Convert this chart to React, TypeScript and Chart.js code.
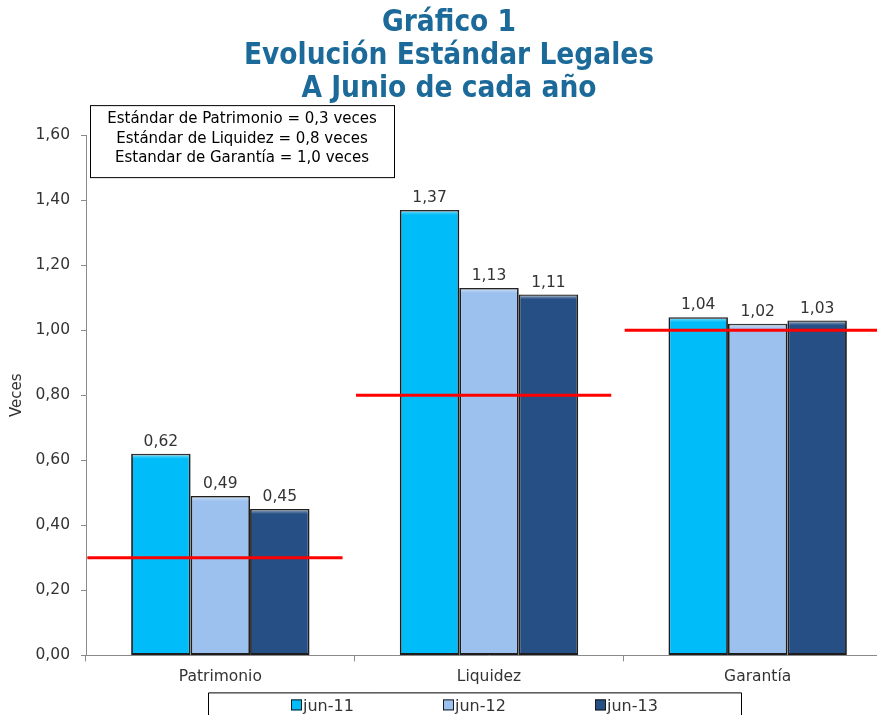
import React, { useEffect, useRef } from "react";
import { Chart, registerables } from "chart.js";

Chart.register(...registerables);

const categories = ["Patrimonio", "Liquidez", "Garantía"];
const seriesNames = ["jun-11", "jun-12", "jun-13"];
const jun11 = [0.62, 1.37, 1.04];
const jun12 = [0.49, 1.13, 1.02];
const jun13 = [0.45, 1.11, 1.03];
const standards = [0.3, 0.8, 1.0];
const standardNotes = [
  "Estándar de Patrimonio = 0,3 veces",
  "Estándar de Liquidez = 0,8 veces",
  "Estandar de Garantía = 1,0 veces",
];
const titleLines = ["Gráfico 1", "Evolución Estándar Legales", "A Junio de cada año"];
const yAxisTitle = "Veces";
const yMin = 0;
const yMax = 1.6;
const yStep = 0.2;

const seriesValues = [jun11, jun12, jun13];
const seriesColors = ["#00BCF8", "#9DC1EF", "#254F85"];

const FONT = "'DejaVu Sans', Verdana, sans-serif";
const TEXT = "#333333";
const AXIS = "#8a8a8a";

const fmt = (v: number, d: number) => v.toFixed(d).replace(".", ",");

const extrasPlugin = {
  id: "extras",
  afterDatasetsDraw(chart: any) {
    const ctx = chart.ctx;
    const x = chart.scales.x;
    const y = chart.scales.y;
    // bevel highlight on bars
    chart.data.datasets.forEach((ds: any, di: number) => {
      const meta = chart.getDatasetMeta(di);
      meta.data.forEach((bar: any) => {
        const left = bar.x - bar.width / 2;
        ctx.save();
        const g = ctx.createLinearGradient(0, bar.y, 0, bar.y + 5);
        g.addColorStop(0, "rgba(255,255,255,0.55)");
        g.addColorStop(1, "rgba(255,255,255,0)");
        ctx.fillStyle = g;
        ctx.fillRect(left + 1.5, bar.y + 1, bar.width - 3, 5);
        ctx.restore();
      });
    });
    // data labels
    ctx.save();
    ctx.font = `15.5px ${FONT}`;
    ctx.fillStyle = TEXT;
    ctx.textAlign = "center";
    ctx.textBaseline = "bottom";
    chart.data.datasets.forEach((ds: any, di: number) => {
      const meta = chart.getDatasetMeta(di);
      meta.data.forEach((bar: any, i: number) => {
        ctx.fillText(fmt(ds.data[i], 2), bar.x, bar.y - 4);
      });
    });
    ctx.restore();
    // standard lines
    const w = x.getPixelForValue(1) - x.getPixelForValue(0);
    ctx.save();
    ctx.strokeStyle = "#FF0000";
    ctx.lineWidth = 3;
    standards.forEach((s, i) => {
      const cx = x.getPixelForValue(i);
      const py = y.getPixelForValue(s);
      ctx.beginPath();
      ctx.moveTo(cx - 0.495 * w, py);
      ctx.lineTo(cx + 0.455 * w, py);
      ctx.stroke();
    });
    ctx.restore();
  },
  afterDraw(chart: any) {
    const ctx = chart.ctx;
    const area = chart.chartArea;
    // annotation box
    const bx = area.left + 4;
    const by = area.top - 30;
    const bw = 304;
    const bh = 72;
    ctx.save();
    ctx.fillStyle = "#ffffff";
    ctx.fillRect(bx, by, bw, bh);
    ctx.strokeStyle = "#000000";
    ctx.lineWidth = 1;
    ctx.strokeRect(bx + 0.5, by + 0.5, bw, bh);
    ctx.font = `15px ${FONT}`;
    ctx.fillStyle = "#000000";
    ctx.textAlign = "center";
    ctx.textBaseline = "middle";
    standardNotes.forEach((t, i) => {
      ctx.fillText(t, bx + bw / 2, by + 14 + i * 19.5);
    });
    ctx.restore();
    // legend
    const legTop = area.bottom + 37;
    const legLeft = 208;
    const legRight = 741;
    ctx.save();
    ctx.strokeStyle = "#000000";
    ctx.lineWidth = 1;
    ctx.beginPath();
    ctx.moveTo(legLeft + 0.5, chart.height);
    ctx.lineTo(legLeft + 0.5, legTop + 0.5);
    ctx.lineTo(legRight + 0.5, legTop + 0.5);
    ctx.lineTo(legRight + 0.5, chart.height);
    ctx.stroke();
    ctx.font = `16px ${FONT}`;
    ctx.textBaseline = "middle";
    ctx.textAlign = "left";
    const cy = legTop + 13;
    seriesNames.forEach((n, i) => {
      const sx = 291 + i * 152;
      ctx.fillStyle = seriesColors[i];
      ctx.fillRect(sx, cy - 6, 11, 11);
      ctx.strokeStyle = "#1a1a1a";
      ctx.strokeRect(sx + 0.5, cy - 5.5, 10, 10);
      ctx.fillStyle = TEXT;
      ctx.fillText(n, sx + 12, cy + 1);
    });
    ctx.restore();
  },
};

export default function App() {
  const ref = useRef<HTMLCanvasElement>(null);
  useEffect(() => {
    if (!ref.current) return;
    const chart = new Chart(ref.current, {
      type: "bar",
      data: {
        labels: categories,
        datasets: seriesValues.map((vals, i) => ({
          label: seriesNames[i],
          data: vals,
          backgroundColor: seriesColors[i],
          borderColor: "#1e1e1e",
          borderWidth: 1.8,
          borderSkipped: false,
          barPercentage: 1,
          categoryPercentage: 0.664,
        })),
      },
      options: {
        responsive: false,
        animation: false,
        devicePixelRatio: 1,
        layout: { padding: { left: 6, right: 4, top: 0, bottom: 38 } },
        plugins: {
          legend: { display: false },
          tooltip: { enabled: false },
          title: {
            display: true,
            text: titleLines,
            color: "#1B6A99",
            font: { family: "'DejaVu Sans Condensed', 'DejaVu Sans', sans-serif", size: 29.5, weight: "bold", lineHeight: 1.12 },
            padding: { top: 7, bottom: 29 },
          },
        },
        scales: {
          x: {
            grid: { display: true, drawOnChartArea: false, color: AXIS, tickLength: 6, offset: true },
            border: { display: true, color: AXIS, width: 1 },
            ticks: { color: TEXT, font: { family: FONT, size: 15.5 }, padding: 6 },
          },
          y: {
            min: yMin,
            max: yMax,
            grid: { display: true, drawOnChartArea: false, color: AXIS, tickLength: 5 },
            border: { display: true, color: AXIS, width: 1 },
            ticks: {
              stepSize: yStep,
              color: TEXT,
              font: { family: FONT, size: 15.5 },
              padding: 11,
              callback: (v: any) => fmt(Number(v), 2),
            },
            title: { display: true, text: yAxisTitle, color: TEXT, font: { family: FONT, size: 15 }, padding: 2 },
            afterFit: (s: any) => {
              s.width = 80;
            },
          },
        },
      },
      plugins: [extrasPlugin],
    });
    return () => chart.destroy();
  }, []);
  return (
    <div style={{ position: "fixed", left: 0, top: 0, width: 877, height: 715, overflow: "hidden", background: "#fff" }}>
      <canvas ref={ref} width={896} height={730} style={{ display: "block" }} />
    </div>
  );
}
